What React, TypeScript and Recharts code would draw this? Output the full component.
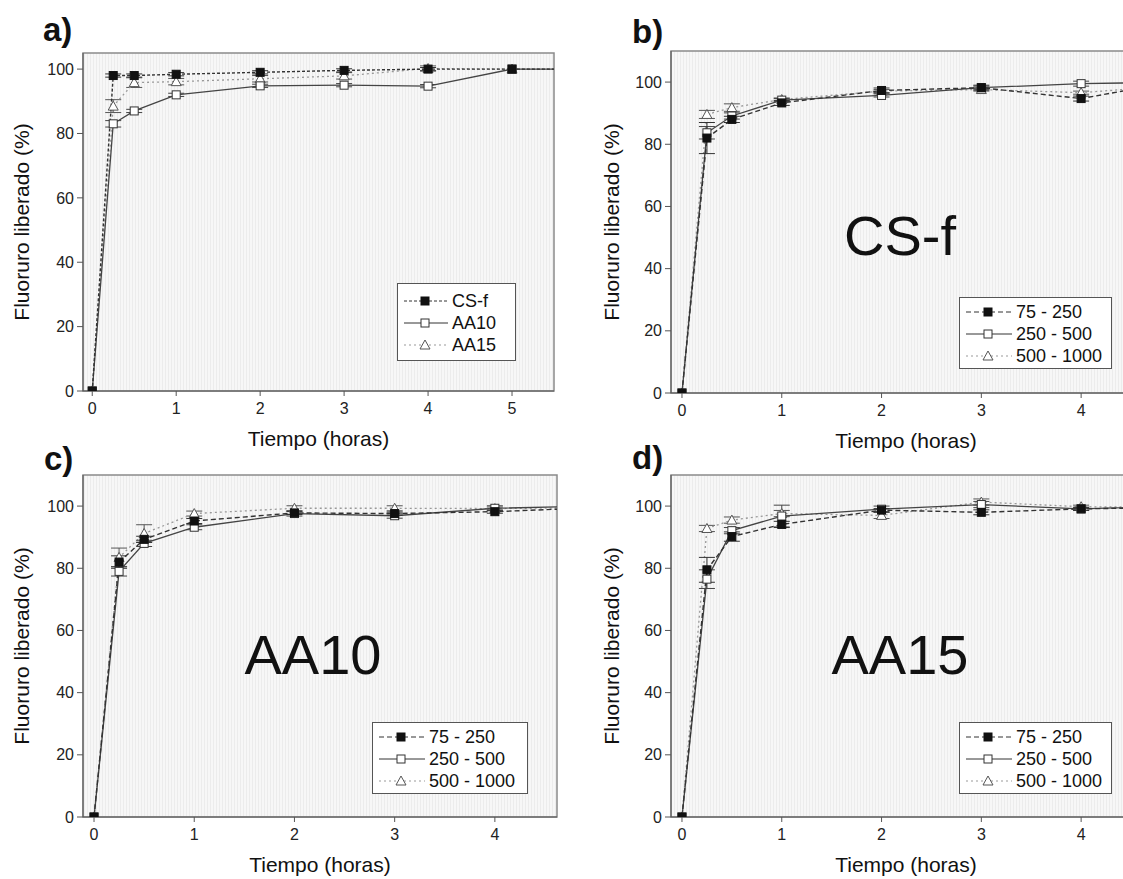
import React from "react";
import {
  ErrorBar,
  Legend,
  Line,
  LineChart,
  ReferenceArea,
  XAxis,
  YAxis,
} from "recharts";

const FONT = '"Liberation Sans", Arial, sans-serif';

// a) formulations
const hoursA = [0, 0.25, 0.5, 1, 2, 3, 4, 5, 6];
const csfA = [0, 98, 98, 98.4, 99, 99.6, 100, 100, 100];
const aa10A = [0, 83, 87, 92, 94.8, 95, 94.7, 100, 100];
const aa15A = [0, 88.5, 95.8, 96.1, 97, 97.9, 100.2, 100, 100];
const csfErrA = [0, 0.5, 0.5, 0.5, 0.5, 0.5, 0.5, 0, 0];
const aa10ErrA = [0, 1, 0.5, 0.5, 0.5, 0.5, 0.5, 0, 0];
const aa15ErrA = [0, 2, 1.5, 1, 1, 1, 0.8, 0, 0];

// b) CS-f particle sizes
const hoursB = [0, 0.25, 0.5, 1, 2, 3, 4, 5];
const b75 = [0, 82, 88, 93.3, 97.3, 98.2, 94.7, 100.5];
const b250 = [0, 83.7, 89.1, 94.2, 95.7, 98.2, 99.5, 100];
const b500 = [0, 89.6, 91.8, 94.4, 97.1, 97.6, 96.6, 99];
const b75Err = [0, 5, 1, 0.8, 0.8, 0.8, 0.8, 0];
const b250Err = [0, 2, 1, 0.5, 0.5, 0.5, 0.8, 0];
const b500Err = [0, 1.3, 1.2, 0.5, 0.5, 0.5, 0.5, 0];

// c) AA10 particle sizes
const hoursC = [0, 0.25, 0.5, 1, 2, 3, 4, 5];
const c75 = [0, 82, 89.3, 95.2, 97.8, 97.6, 98.2, 99.5];
const c250 = [0, 79, 88, 93.2, 97.6, 96.9, 99.3, 100];
const c500 = [0, 83.5, 91.2, 97.6, 99.3, 99.3, 99.2, 99.5];
const c75Err = [0, 2, 1, 0.8, 0.5, 0.5, 0.5, 0];
const c250Err = [0, 1.5, 1, 0.8, 0.8, 0.8, 0.8, 0];
const c500Err = [0, 3, 2.8, 0.8, 0.8, 0.8, 0.5, 0];

// d) AA15 particle sizes
const hoursD = [0, 0.25, 0.5, 1, 2, 3, 4, 5];
const d75 = [0, 79.5, 90.2, 94.1, 98.7, 98, 99.1, 99.6];
const d250 = [0, 76.5, 92.1, 96.8, 99, 100.5, 99.1, 100];
const d500 = [0, 92.8, 95.5, 97.6, 97, 101.3, 99.8, 99.6];
const d75Err = [0, 4, 1.5, 1, 0.5, 0.8, 0.5, 0];
const d250Err = [0, 3, 1, 3.5, 1, 1, 0.5, 0];
const d500Err = [0, 1, 1, 1, 1, 1, 0.5, 0];

const namesA = ["CS-f", "AA10", "AA15"];
const namesSize = ["75 - 250", "250 - 500", "500 - 1000"];
const yTicks = [0, 20, 40, 60, 80, 100];

const rows = (t: number[], s1: number[], s2: number[], s3: number[], e1: number[], e2: number[], e3: number[]) =>
  t.map((x, i) => ({ t: x, s1: s1[i], s2: s2[i], s3: s3[i], e1: e1[i], e2: e2[i], e3: e3[i] }));

const drawMarker = (kind: string, cx: number, cy: number, size: number, key?: string) => {
  const h = size / 2;
  if (kind === "filled")
    return <rect key={key} x={cx - h} y={cy - h} width={size} height={size} fill="#111" stroke="#111" />;
  if (kind === "square")
    return <rect key={key} x={cx - h} y={cy - h} width={size} height={size} fill="#fff" stroke="#333" strokeWidth={1} />;
  return (
    <polygon
      key={key}
      points={`${cx},${cy - h - 1} ${cx - h - 1},${cy + h} ${cx + h + 1},${cy + h}`}
      fill="#fff"
      stroke="#555"
      strokeWidth={1}
    />
  );
};

const dotFn = (kind: string) => (p: any) => {
  if (p.cx == null || p.cy == null) return <g key={`n-${p.index}`} />;
  return drawMarker(kind, p.cx, p.cy, 8, `${kind}-${p.index}`);
};

const LegendBox = ({ names, dash1, w, h, padTop, textX }: any) => {
  const styles = [
    { kind: "filled", dash: dash1, stroke: "#333" },
    { kind: "square", dash: undefined, stroke: "#333" },
    { kind: "triangle", dash: "2 3", stroke: "#999" },
  ];
  return (
    <div
      style={{
        width: w,
        height: h,
        boxSizing: "border-box",
        border: "1px solid #555",
        background: "#fff",
        paddingTop: padTop,
        fontFamily: FONT,
        fontSize: 18,
        color: "#111",
      }}
    >
      {names.map((n: string, i: number) => (
        <div key={n} style={{ display: "flex", alignItems: "center", height: 22 }}>
          <svg width={textX - 2} height={22}>
            <line x1={6} x2={textX - 6} y1={11} y2={11} stroke={styles[i].stroke} strokeDasharray={styles[i].dash} />
            {drawMarker(styles[i].kind, (textX - 2) / 2, 11, 8)}
          </svg>
          <span style={{ lineHeight: "22px" }}>{n}</span>
        </div>
      ))}
    </div>
  );
};

const Panel = ({ id, left, top, width, height, plotLeft, plotTop, plotRight, plotBottom, data, xMax, xTicks, yMax, names, dash1, legend, tag, big, bigPos }: any) => {
  const axisH = 60;
  const margin = {
    top: plotTop - top,
    left: 0,
    right: left + width - plotRight,
    bottom: top + height - plotBottom - axisH,
  };
  const xMin = -0.11;
  return (
    <div style={{ position: "absolute", left, top, width, height }}>
      <LineChart width={width} height={height} data={data} margin={margin}>
        <defs>
          <pattern id={`bg-${id}`} width={3} height={4} patternUnits="userSpaceOnUse">
            <rect width={3} height={4} fill="#f7f7f7" />
            <line x1={0.5} x2={0.5} y1={0} y2={4} stroke="#ececec" strokeWidth={1} />
          </pattern>
        </defs>
        <ReferenceArea x1={xMin} x2={xMax} y1={0} y2={yMax} fill={`url(#bg-${id})`} fillOpacity={1} stroke="#8a8a8a" strokeWidth={1.5} />
        <XAxis
          type="number"
          dataKey="t"
          domain={[xMin, xMax]}
          ticks={xTicks}
          allowDataOverflow
          height={axisH}
          stroke="#555"
          tickSize={5}
          tickMargin={7}
          tick={{ fontSize: 16, fill: "#222", fontFamily: FONT }}
          label={{ value: "Tiempo (horas)", position: "insideBottom", offset: 5, style: { fontSize: 21, fill: "#111", fontFamily: FONT } }}
        />
        <YAxis
          type="number"
          domain={[0, yMax]}
          ticks={yTicks}
          allowDataOverflow
          width={plotLeft - left}
          stroke="#555"
          tickSize={6}
          tickMargin={3}
          tick={{ fontSize: 16, fill: "#222", fontFamily: FONT }}
          label={{ value: "Fluoruro liberado (%)", angle: -90, position: "insideLeft", offset: 22, style: { textAnchor: "middle", fontSize: 21, fill: "#111", fontFamily: FONT } }}
        />
        <Legend
          layout="vertical"
          align="center"
          verticalAlign="middle"
          wrapperStyle={{ left: legend.left, top: legend.top, width: legend.w, height: legend.h }}
          content={() => <LegendBox names={names} dash1={dash1} w={legend.w} h={legend.h} padTop={legend.padTop} textX={legend.textX} />}
        />
        <Line dataKey="s3" name={names[2]} type="linear" stroke="#999" strokeWidth={1.3} strokeDasharray="2 3" dot={dotFn("triangle")} isAnimationActive={false}>
          <ErrorBar dataKey="e3" width={8} stroke="#555" strokeWidth={1} direction="y" />
        </Line>
        <Line dataKey="s2" name={names[1]} type="linear" stroke="#444" strokeWidth={1.3} dot={dotFn("square")} isAnimationActive={false}>
          <ErrorBar dataKey="e2" width={8} stroke="#444" strokeWidth={1} direction="y" />
        </Line>
        <Line dataKey="s1" name={names[0]} type="linear" stroke="#333" strokeWidth={1.4} strokeDasharray={dash1} dot={dotFn("filled")} isAnimationActive={false}>
          <ErrorBar dataKey="e1" width={8} stroke="#333" strokeWidth={1} direction="y" />
        </Line>
      </LineChart>
      <div style={{ position: "absolute", left: tag.x - left, top: tag.y - top, fontFamily: FONT, fontWeight: "bold", fontSize: 33, lineHeight: "33px", color: "#111" }}>
        {id})
      </div>
      {big && (
        <div style={{ position: "absolute", left: bigPos.x - left - 150, top: bigPos.y - top - 33, width: 300, textAlign: "center", fontFamily: FONT, fontSize: 56, lineHeight: "66px", color: "#111" }}>
          {big}
        </div>
      )}
    </div>
  );
};

const dataA = rows(hoursA, csfA, aa10A, aa15A, csfErrA, aa10ErrA, aa15ErrA);
const dataB = rows(hoursB, b75, b250, b500, b75Err, b250Err, b500Err);
const dataC = rows(hoursC, c75, c250, c500, c75Err, c250Err, c500Err);
const dataD = rows(hoursD, d75, d250, d500, d75Err, d250Err, d500Err);

export default function App() {
  return (
    <div style={{ position: "absolute", left: 0, top: 0, width: 1123, height: 879, overflow: "hidden", background: "#fff" }}>
      <Panel
        id="a" left={0} top={0} width={562} height={460}
        plotLeft={83} plotTop={53} plotRight={554} plotBottom={391}
        data={dataA} xMax={5.5} xTicks={[0, 1, 2, 3, 4, 5]} yMax={105}
        names={namesA} dash1="3 2"
        legend={{ left: 397, top: 283, w: 119, h: 78, padTop: 6, textX: 56 }}
        tag={{ x: 43, y: 13 }}
      />
      <Panel
        id="b" left={590} top={0} width={560} height={460}
        plotLeft={671} plotTop={51} plotRight={1141} plotBottom={393}
        data={dataB} xMax={4.6} xTicks={[0, 1, 2, 3, 4]} yMax={110}
        names={namesSize} dash1="5 3"
        legend={{ left: 369, top: 297, w: 153, h: 72, padTop: 3, textX: 58 }}
        tag={{ x: 632, y: 15 }}
        big="CS-f" bigPos={{ x: 900, y: 236 }}
      />
      <Panel
        id="c" left={0} top={430} width={565} height={449}
        plotLeft={83} plotTop={475} plotRight={557} plotBottom={817}
        data={dataC} xMax={4.62} xTicks={[0, 1, 2, 3, 4]} yMax={110}
        names={namesSize} dash1="5 3"
        legend={{ left: 372, top: 292, w: 156, h: 72, padTop: 3, textX: 58 }}
        tag={{ x: 44, y: 442 }}
        big="AA10" bigPos={{ x: 313, y: 655 }}
      />
      <Panel
        id="d" left={590} top={430} width={560} height={449}
        plotLeft={671} plotTop={475} plotRight={1141} plotBottom={817}
        data={dataD} xMax={4.6} xTicks={[0, 1, 2, 3, 4]} yMax={110}
        names={namesSize} dash1="5 3"
        legend={{ left: 369, top: 292, w: 153, h: 72, padTop: 3, textX: 58 }}
        tag={{ x: 632, y: 441 }}
        big="AA15" bigPos={{ x: 900, y: 655 }}
      />
    </div>
  );
}
